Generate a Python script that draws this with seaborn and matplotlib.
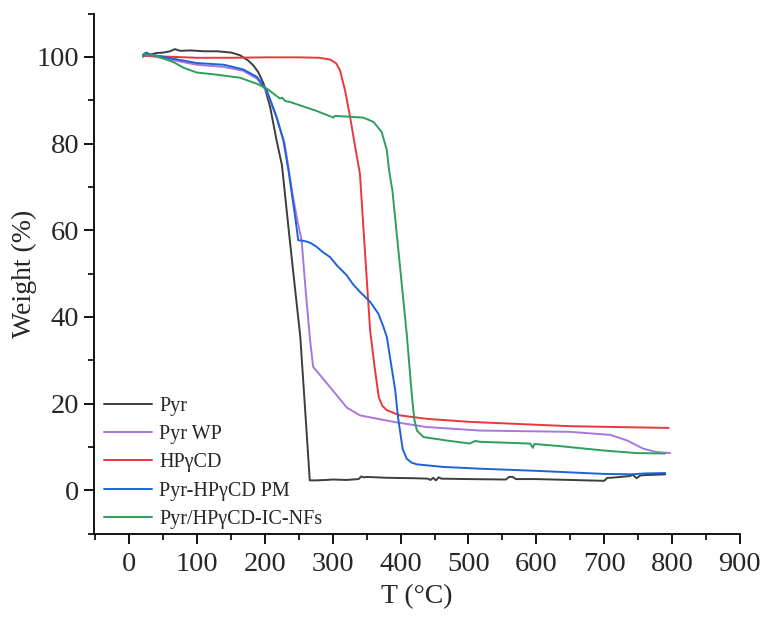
import pandas as pd
import matplotlib.pyplot as plt
import seaborn as sns
from matplotlib.ticker import MultipleLocator

# TGA curves (T in degC, weight in %)
pyr_T = [20, 25, 30, 40, 50, 60, 67, 75, 90, 110, 130, 150, 163, 175, 183, 190, 198, 207.5, 217, 225,
         235, 245, 252, 259, 266, 275, 290, 300, 320, 338, 342, 346, 350, 380, 420, 440, 444, 448, 452,
         456, 460, 500, 555, 560, 565, 570, 600, 650, 700, 705, 710, 738, 742, 748, 753, 757, 790]
pyr_W = [100.2, 100.8, 100.5, 100.9, 101.0, 101.3, 101.8, 101.4, 101.5, 101.3, 101.3, 101.0, 100.4, 99.2,
         98.0, 96.5, 93.8, 88.5, 80.8, 75.0, 60.0, 45.5, 35.5, 19.0, 2.3, 2.3, 2.4, 2.5, 2.4, 2.6, 3.2,
         3.0, 3.1, 2.9, 2.8, 2.7, 2.4, 2.9, 2.3, 3.0, 2.7, 2.6, 2.5, 3.1, 3.1, 2.6, 2.6, 2.4, 2.2, 2.9,
         2.9, 3.3, 3.6, 2.8, 3.4, 3.5, 3.7]

wp_T = [20, 30, 50, 99, 139, 168, 188, 202.6, 217, 229, 236, 241, 248, 254, 260, 266.5, 271, 296, 320.6,
        340, 389.5, 438.6, 517, 650, 709, 734, 758, 778, 797.5]
wp_W = [100.3, 100.2, 99.7, 98.2, 97.7, 96.8, 95.0, 92.0, 86.0, 80.0, 73.0, 68.0, 62.0, 57.7, 46.0, 34.6,
        28.5, 23.8, 19.1, 17.3, 15.8, 14.6, 13.8, 13.5, 12.8, 11.5, 9.6, 8.8, 8.6]

cd_T = [20, 30, 50, 100, 150, 200, 250, 280, 296, 305, 310.6, 318, 325.4, 333, 340, 347, 355, 362, 367.7,
        373, 379.6, 399, 438.6, 502, 650, 795]
cd_W = [100.2, 100.3, 100.1, 99.8, 99.8, 99.9, 99.9, 99.8, 99.4, 98.5, 96.9, 92.3, 86.2, 79.2, 73.0, 56.0,
        36.9, 28.0, 21.5, 19.5, 18.5, 17.3, 16.5, 15.8, 14.8, 14.4]

pm_T = [20, 25, 30, 50, 99, 139, 150, 168, 188, 202.6, 217, 227, 234.6, 240, 245, 249, 255, 261.6, 268,
        276, 285, 296, 306, 320.6, 330, 340, 355, 367, 374, 379.6, 385, 392, 396, 399, 403, 409, 416,
        424, 463, 517, 601, 699, 740, 760, 790]
pm_W = [100.5, 101.0, 100.6, 100.0, 98.6, 98.2, 97.8, 97.1, 95.4, 92.3, 86.2, 80.8, 73.8, 68.0, 62.5, 57.7,
        57.6, 57.4, 57.0, 56.2, 55.0, 53.8, 51.9, 49.6, 47.5, 45.8, 43.5, 40.8, 38.0, 35.4, 30.0, 23.1,
        17.0, 13.8, 9.5, 7.3, 6.4, 6.0, 5.4, 5.0, 4.5, 3.8, 3.7, 3.9, 4.0]

ic_T = [20, 22, 25, 30, 40, 65, 80, 99.4, 129, 163, 188, 202.6, 222, 225, 230, 237, 252, 275, 301, 303,
        345, 360, 372, 379.6, 383, 388, 395, 402, 409, 416.5, 420, 424, 433.6, 468, 502, 510, 517, 591,
        595, 597, 635, 699, 748, 790]
ic_W = [100.0, 100.8, 100.4, 100.6, 100.2, 98.8, 97.5, 96.4, 95.9, 95.2, 93.8, 92.7, 90.4, 90.6, 89.8, 89.6,
        88.8, 87.6, 86.0, 86.4, 86.0, 85.0, 82.7, 78.5, 73.8, 69.0, 58.0, 47.0, 36.0, 22.0, 16.5, 13.8,
        12.3, 11.5, 10.8, 11.4, 11.2, 10.8, 9.8, 10.7, 10.2, 9.2, 8.6, 8.5]

labels = ['Pyr', 'Pyr WP', 'HPγCD', 'Pyr-HPγCD PM', 'Pyr/HPγCD-IC-NFs']
colors = ['#3d3d3d', '#a876e0', '#e8383d', '#1f62d8', '#2f9e5c']

curves = [(pyr_T, pyr_W), (wp_T, wp_W), (cd_T, cd_W), (pm_T, pm_W), (ic_T, ic_W)]
frames = []
for name, (t, w) in zip(labels, curves):
    frames.append(pd.DataFrame({'T': t, 'W': w, 'sample': name}))
df = pd.concat(frames, ignore_index=True)

sns.set_style('ticks')
plt.rcParams['font.family'] = ['Liberation Serif', 'DejaVu Serif']

fig = plt.figure(figsize=(7.65, 6.17), dpi=100)
ax = fig.add_axes([0.123, 0.135, 0.844, 0.843])

sns.lineplot(data=df, x='T', y='W', hue='sample', hue_order=labels,
             palette=dict(zip(labels, colors)), sort=False, estimator=None,
             linewidth=1.4, ax=ax)

ax.set_xlim(-52, 900)
ax.set_ylim(-10, 110)
ax.xaxis.set_minor_locator(MultipleLocator(50))
ax.yaxis.set_minor_locator(MultipleLocator(10))
ax.set_xticks(range(0, 901, 100))
ax.set_yticks(range(0, 101, 20))

ax.tick_params(which='major', direction='out', length=7.2, width=1.3, labelsize=20.5, color='black')
ax.tick_params(axis='x', which='major', pad=6)
ax.tick_params(axis='y', which='major', pad=3.5)
ax.tick_params(which='minor', direction='out', length=4, width=1.2, color='black')
for side in ['left', 'bottom']:
    ax.spines[side].set_linewidth(1.3)
    ax.spines[side].set_color('black')
sns.despine(ax=ax)

ax.set_xlabel('T (°C)', fontsize=20, labelpad=5)
ax.set_ylabel('Weight (%)', fontsize=20, labelpad=0)

ax.legend(loc='lower left', bbox_to_anchor=(0.003, -0.006), frameon=False, fontsize=14.5,
          handlelength=2.4, handletextpad=0.35, labelspacing=0.45, borderaxespad=0.0)

fig.savefig('out.png', dpi=100)
